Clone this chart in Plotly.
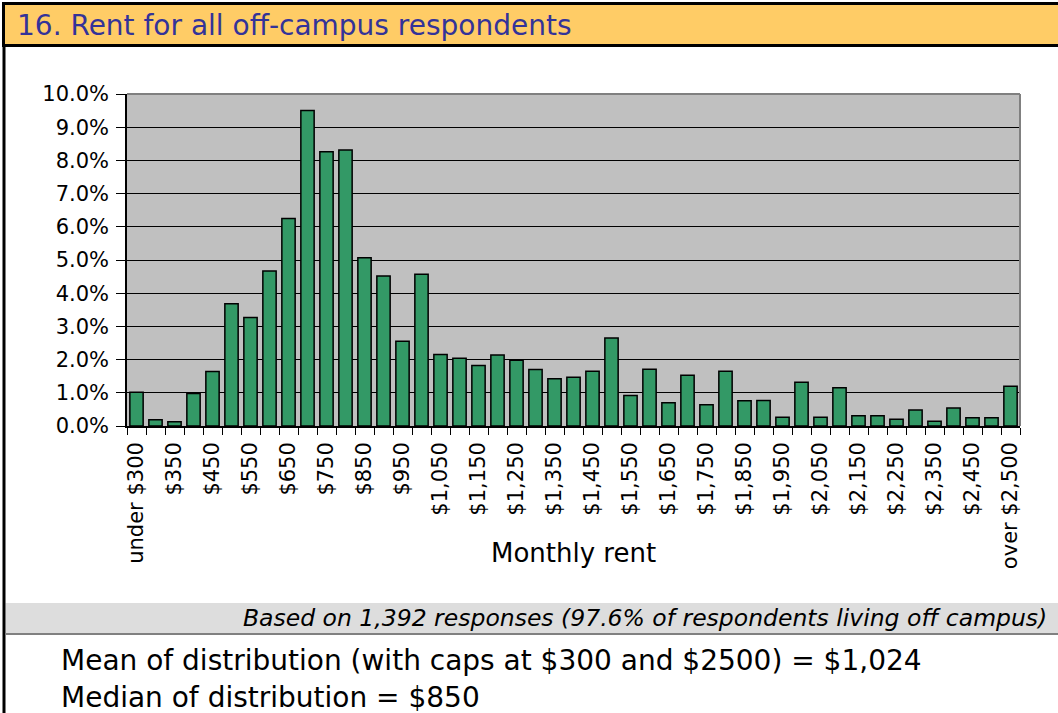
import plotly.graph_objects as go

W, H = 1058, 713

categories = ["under $300", "$300", "$350", "$400", "$450", "$500", "$550", "$600", "$650",
              "$700", "$750", "$800", "$850", "$900", "$950", "$1,000", "$1,050", "$1,100",
              "$1,150", "$1,200", "$1,250", "$1,300", "$1,350", "$1,400", "$1,450", "$1,500",
              "$1,550", "$1,600", "$1,650", "$1,700", "$1,750", "$1,800", "$1,850", "$1,900",
              "$1,950", "$2,000", "$2,050", "$2,100", "$2,150", "$2,200", "$2,250", "$2,300",
              "$2,350", "$2,400", "$2,450", "$2,500", "over $2,500"]

percent = [1.02, 0.19, 0.13, 0.98, 1.64, 3.68, 3.27, 4.67, 6.25, 9.50, 8.26, 8.31, 5.07,
           4.52, 2.55, 4.57, 2.15, 2.04, 1.82, 2.14, 1.98, 1.70, 1.42, 1.47, 1.65, 2.65,
           0.92, 1.71, 0.70, 1.53, 0.64, 1.65, 0.76, 0.77, 0.26, 1.32, 0.26, 1.15, 0.31,
           0.31, 0.20, 0.48, 0.14, 0.54, 0.25, 0.25, 1.20]

shown_labels = ["under $300", "$350", "$450", "$550", "$650", "$750", "$850", "$950",
                "$1,050", "$1,150", "$1,250", "$1,350", "$1,450", "$1,550", "$1,650",
                "$1,750", "$1,850", "$1,950", "$2,050", "$2,150", "$2,250", "$2,350",
                "$2,450", "over $2,500"]

title_text = "16. Rent for all off-campus respondents"
axis_title = "Monthly rent"
footnote = "Based on 1,392 responses (97.6% of respondents living off campus)"
stat_lines = ["Mean of distribution (with caps at $300 and $2500) = $1,024",
              "Median of distribution = $850"]

FONT = "DejaVu Sans"


def px(x):
    return x / W


def py(y):
    return 1 - y / H


ticktext = [c if c in shown_labels else "" for c in categories]

fig = go.Figure()
fig.add_trace(go.Bar(
    x=categories, y=percent,
    marker=dict(color="#339966", line=dict(color="black", width=1.5)),
    hoverinfo="x+y",
))

plot_l, plot_r, plot_t, plot_b = 127, 1020, 94, 426

shapes = [
    # title band
    dict(type="rect", xref="paper", yref="paper", x0=px(3.5), x1=px(1062), y0=py(3.5), y1=py(45.5),
         fillcolor="#FFCC66", line=dict(color="black", width=3), layer="below"),
    # left frame
    dict(type="line", xref="paper", yref="paper", x0=px(4), x1=px(4), y0=py(46), y1=py(716),
         line=dict(color="black", width=3)),
    # footnote band
    dict(type="rect", xref="paper", yref="paper", x0=px(5.5), x1=px(1062), y0=py(603), y1=py(633),
         fillcolor="#DDDDDD", line=dict(width=0), layer="below"),
    dict(type="line", xref="paper", yref="paper", x0=px(5.5), x1=px(1062), y0=py(634), y1=py(634),
         line=dict(color="#808080", width=2)),
    # plot area border (top / right)
    dict(type="line", xref="paper", yref="paper", x0=px(plot_l), x1=px(plot_r), y0=py(plot_t), y1=py(plot_t),
         line=dict(color="#808080", width=2)),
    dict(type="line", xref="paper", yref="paper", x0=px(plot_r), x1=px(plot_r), y0=py(plot_t), y1=py(plot_b),
         line=dict(color="#808080", width=2)),
]

annotations = [
    dict(text=title_text, xref="paper", yref="paper", x=px(15), y=py(25), xanchor="left", yanchor="middle",
         showarrow=False, font=dict(family=FONT, size=28, color="#333399")),
    dict(text=axis_title, xref="paper", yref="paper", x=px(573), y=py(553), xanchor="center", yanchor="middle",
         showarrow=False, font=dict(family=FONT, size=26, color="black")),
    dict(text="<i>" + footnote + "</i>", xref="paper", yref="paper", x=px(1049), y=py(618), xanchor="right",
         yanchor="middle", showarrow=False, font=dict(family=FONT, size=23.5, color="black")),
    dict(text=stat_lines[0], xref="paper", yref="paper", x=px(59), y=py(660), xanchor="left", yanchor="middle",
         showarrow=False, font=dict(family=FONT, size=28, color="black")),
    dict(text=stat_lines[1], xref="paper", yref="paper", x=px(59), y=py(697), xanchor="left", yanchor="middle",
         showarrow=False, font=dict(family=FONT, size=28, color="black")),
]

fig.update_layout(
    width=W, height=H, autosize=False,
    margin=dict(l=0, r=0, t=0, b=0, pad=0),
    paper_bgcolor="white", plot_bgcolor="#C0C0C0",
    bargap=0.3, showlegend=False,
    font=dict(family=FONT, color="black"),
    shapes=shapes, annotations=annotations,
    xaxis=dict(domain=[px(plot_l), px(plot_r)], type="category", automargin=False,
               tickmode="array", tickvals=categories, ticktext=ticktext,
               tickangle=-90, tickson="boundaries", ticks="outside", ticklen=7,
               ticklabelstandoff=6,
               tickcolor="black", tickwidth=1, showline=True, linecolor="black", linewidth=1.5,
               showgrid=False, tickfont=dict(family=FONT, size=21, color="black"), fixedrange=True),
    yaxis=dict(domain=[py(plot_b), py(plot_t)], range=[0, 10], tick0=0, dtick=1, automargin=False,
               tickformat=".1f", ticksuffix="%", ticks="outside", ticklen=9, tickcolor="black",
               ticklabelstandoff=3,
               showline=True, linecolor="black", linewidth=1.5, showgrid=True, gridcolor="black",
               gridwidth=1, zeroline=False, tickfont=dict(family=FONT, size=21, color="black"),
               fixedrange=True),
)

fig.write_html("out.html", config=dict(displayModeBar=False),
               post_script="document.body.style.margin='0';document.body.style.overflow='hidden';")
